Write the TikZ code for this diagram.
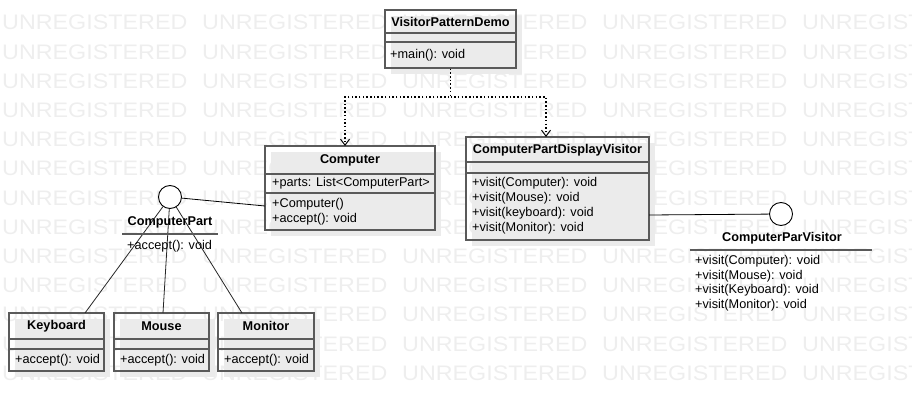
\documentclass[tikz,border=0pt]{standalone}
\usepackage{fontspec}
\setmainfont{Liberation Sans}
\usetikzlibrary{arrows.meta,shadows}
\definecolor{bord}{RGB}{90,90,90}
\definecolor{wmc}{RGB}{238,238,238}
\begin{document}
\begin{tikzpicture}[x=1pt,y=-1pt,
  box/.style={draw=bord, line width=1.4pt, rectangle, inner sep=0pt,
    drop shadow={shadow xshift=6pt, shadow yshift=-6pt, fill=black!8, opacity=1}},
  sep/.style={draw=bord, line width=1.4pt},
  ttl/.style={font=\fontsize{12.7}{15}\selectfont\bfseries, inner sep=0pt},
  mth/.style={font=\fontsize{12.7}{15}\selectfont, inner sep=0pt, anchor=west},
  wm/.style={font=\fontsize{21}{21}\selectfont, text=wmc, inner sep=0pt, anchor=north west},
  lnk/.style={draw=black!85, line width=0.8pt},
  dep/.style={draw=black, line width=1.3pt, dash pattern=on 1.5pt off 2.2pt,
    -{Straight Barb[length=6pt,width=9pt,line width=1pt]}},
  iface/.style={circle, draw=black, line width=0.9pt, fill=white, minimum size=23pt, inner sep=0pt}
]
\useasboundingbox (0,0) rectangle (912,411);
% watermark
\foreach \r in {0,...,12}{
  \foreach \c in {0,...,4}{
    \node[wm] (wm-\r-\c) at ({2+200*\c},{15+29.2*\r}) {\scalebox{1.11}[1]{UNREGISTERED}};
  }
}
% VisitorPatternDemo
\node[box, minimum width=131pt, minimum height=58pt] (demo) at (450.5,39) {};
\draw[sep] (demo.west |- 0,33) -- (demo.east |- 0,33);
\draw[sep] (demo.west |- 0,42) -- (demo.east |- 0,42);
\node[ttl] (demo-t) at (450.5,22) {VisitorPatternDemo};
\node[mth] (demo-m1) at (390,55) {+main(): void};
% Computer
\node[box, minimum width=170pt, minimum height=84pt] (comp) at (350,188) {};
\draw[sep] (comp.west |- 0,174) -- (comp.east |- 0,174);
\draw[sep] (comp.west |- 0,193) -- (comp.east |- 0,193);
\node[ttl] (comp-t) at (350,160) {Computer};
\node[mth] (comp-a1) at (272,183) {+parts: List<ComputerPart>};
\node[mth] (comp-m1) at (272,204) {+Computer()};
\node[mth] (comp-m2) at (272,219) {+accept(): void};
% ComputerPartDisplayVisitor
\node[box, minimum width=183pt, minimum height=103pt] (cpdv) at (557.5,188.5) {};
\draw[sep] (cpdv.west |- 0,162) -- (cpdv.east |- 0,162);
\draw[sep] (cpdv.west |- 0,173) -- (cpdv.east |- 0,173);
\node[ttl] (cpdv-t) at (557.5,150) {ComputerPartDisplayVisitor};
\node[mth] (cpdv-m1) at (472,183) {+visit(Computer): void};
\node[mth] (cpdv-m2) at (472,198) {+visit(Mouse): void};
\node[mth] (cpdv-m3) at (472,213) {+visit(keyboard): void};
\node[mth] (cpdv-m4) at (472,228) {+visit(Monitor): void};
% Keyboard
\node[box, minimum width=95pt, minimum height=58pt] (kb) at (56.5,342) {};
\draw[sep] (kb.west |- 0,339) -- (kb.east |- 0,339);
\draw[sep] (kb.west |- 0,349) -- (kb.east |- 0,349);
\node[ttl] (kb-t) at (56.5,326) {Keyboard};
\node[mth] (kb-m1) at (15,360) {+accept(): void};
% Mouse
\node[box, minimum width=95pt, minimum height=58pt] (ms) at (161.5,342) {};
\draw[sep] (ms.west |- 0,339) -- (ms.east |- 0,339);
\draw[sep] (ms.west |- 0,349) -- (ms.east |- 0,349);
\node[ttl] (ms-t) at (161.5,326) {Mouse};
\node[mth] (ms-m1) at (120,360) {+accept(): void};
% Monitor
\node[box, minimum width=96pt, minimum height=58pt] (mn) at (266,342) {};
\draw[sep] (mn.west |- 0,339) -- (mn.east |- 0,339);
\draw[sep] (mn.west |- 0,349) -- (mn.east |- 0,349);
\node[ttl] (mn-t) at (266,326) {Monitor};
\node[mth] (mn-m1) at (224,360) {+accept(): void};
% ComputerPart interface
\coordinate (compin2) at (265,206);
\coordinate (kbin) at (85,313);
\coordinate (msin) at (163,313);
\coordinate (mnin) at (242,313);
\node[iface] (cpc) at (170,197) {};
\draw[lnk] (cpc) -- (kbin);
\draw[lnk] (cpc) -- (msin);
\draw[lnk] (cpc) -- (mnin);
\draw[lnk, draw=black] (cpc) -- (compin2);
\node[ttl] (cp-t) at (170,222) {ComputerPart};
\draw[sep, line width=1.2pt] (122,234) -- (218,234);
\node[mth] (cp-m1) at (127,246) {+accept(): void};
% ComputerParVisitor interface
\coordinate (cpdvout) at (649,215);
\node[iface] (cpv) at (781,214) {};
\draw[lnk, draw=black] (cpdvout) -- (cpv);
\node[ttl] (cpv-t) at (782,238) {ComputerParVisitor};
\draw[sep, line width=1.2pt] (690,250) -- (872,250);
\node[mth] (cpv-m1) at (695,261) {+visit(Computer): void};
\node[mth] (cpv-m2) at (695,276) {+visit(Mouse): void};
\node[mth] (cpv-m3) at (695,290) {+visit(Keyboard): void};
\node[mth] (cpv-m4) at (695,305) {+visit(Monitor): void};
% dependencies
\coordinate (split) at (450.5,97);
\coordinate (compin) at (345,146);
\coordinate (cpdvin) at (546,137);
\draw[dep] (demo.south) -- (split) -| (compin);
\draw[dep] (split) -| (cpdvin);
\end{tikzpicture}
\end{document}
